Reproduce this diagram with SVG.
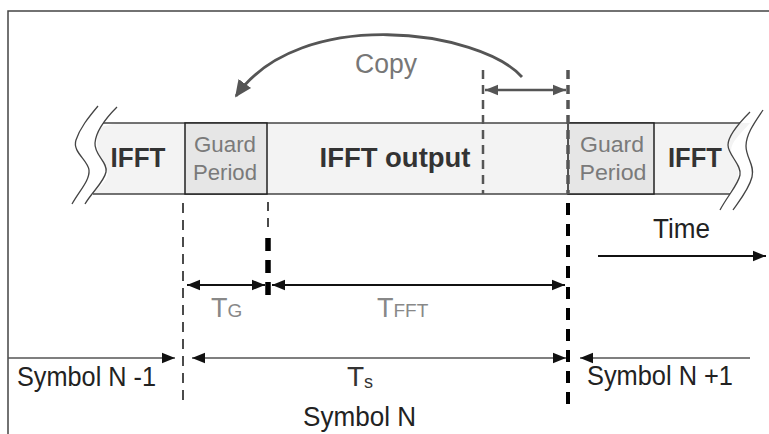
<svg xmlns="http://www.w3.org/2000/svg" width="769" height="434" viewBox="0 0 769 434">
<style>
  .t { font-family: "Liberation Sans", Arial, sans-serif; }
  .bold { font-weight: bold; fill: #333; font-size: 27px; }
  .gp { fill: #7a7a7a; font-size: 22px; }
  .sym { fill: #222; font-size: 27px; }
  .tl { fill: #888; font-size: 27px; }
  .frame { stroke: #444; stroke-width: 1.5; fill: none; }
  .wave { stroke: #444; stroke-width: 1.3; fill: none; }
</style>
<defs>
  <marker id="ah" viewBox="0 0 10 10" refX="10" refY="5" markerWidth="13" markerHeight="13" orient="auto-start-reverse" markerUnits="userSpaceOnUse">
    <path d="M0,1 L10,5 L0,9 z" fill="#111"/>
  </marker>
  <marker id="ahg" viewBox="0 0 10 10" refX="10" refY="5" markerWidth="13" markerHeight="13" orient="auto-start-reverse" markerUnits="userSpaceOnUse">
    <path d="M0,1 L10,5 L0,9 z" fill="#555"/>
  </marker>
  <marker id="ahc" viewBox="0 0 10 10" refX="9" refY="5" markerWidth="17" markerHeight="17" orient="auto" markerUnits="userSpaceOnUse">
    <path d="M0,0.5 L10,5 L0,9.5 z" fill="#555"/>
  </marker>
</defs>

<rect x="0" y="0" width="769" height="434" fill="#fff"/>
<path class="frame" d="M8,434 V11 H769"/>

<g id="bar">
  <path d="M117,123 H750 C740,135 726,145 733,157 C740,168 742,180 727,194 H93 C104,182 110,178 107,170 C100,158 93,145 100,127 Z" fill="#f3f3f3"/>
  <line x1="103" y1="123" x2="740" y2="123" stroke="#444" stroke-width="1.5"/>
  <line x1="93" y1="194" x2="730" y2="194" stroke="#444" stroke-width="1.5"/>
  <path class="wave" d="M98,106 C88,118 80,128 76,140 C72,152 88,160 89,170 C90,180 80,190 72,204"/>
  <path class="wave" d="M117,107 C106,118 96,130 95,143 C94,155 108,162 106,172 C104,182 92,192 85,204"/>
  <path class="wave" d="M750,112 C740,122 728,135 728,145 C728,155 742,165 740,175 C738,185 728,195 720,210"/>
  <path class="wave" d="M763,110 C755,122 746,134 746,146 C746,158 755,165 752,177 C749,189 740,200 733,210"/>
</g>

<g id="ifft-left">
  <text class="t bold" x="138" y="167" text-anchor="middle" textLength="55" lengthAdjust="spacingAndGlyphs">IFFT</text>
</g>
<g id="guard-left">
  <rect x="185" y="123" width="82" height="71" fill="#e6e6e6" stroke="#222" stroke-width="1.5"/>
  <text class="t gp" x="225" y="152" text-anchor="middle" textLength="62" lengthAdjust="spacingAndGlyphs">Guard</text>
  <text class="t gp" x="225" y="180" text-anchor="middle" textLength="64" lengthAdjust="spacingAndGlyphs">Period</text>
</g>
<g id="ifft-output">
  <text class="t bold" x="395" y="167" text-anchor="middle" textLength="151" lengthAdjust="spacingAndGlyphs">IFFT output</text>
</g>
<g id="guard-right">
  <rect x="568" y="123" width="86" height="71" fill="#e6e6e6" stroke="#222" stroke-width="1.5"/>
  <text class="t gp" x="612" y="152" text-anchor="middle" textLength="64" lengthAdjust="spacingAndGlyphs">Guard</text>
  <text class="t gp" x="613" y="180" text-anchor="middle" textLength="67" lengthAdjust="spacingAndGlyphs">Period</text>
</g>
<g id="ifft-right">
  <text class="t bold" x="695" y="167" text-anchor="middle" textLength="54" lengthAdjust="spacingAndGlyphs">IFFT</text>
</g>

<g id="copy">
  <text class="t" x="386" y="73" font-size="27" fill="#777" text-anchor="middle" textLength="62" lengthAdjust="spacingAndGlyphs">Copy</text>
</g>

<g id="connectors">
  <path d="M522,77 C480,30 300,5 236,96" fill="none" stroke="#555" stroke-width="2.8" marker-end="url(#ahc)"/>
  <line x1="485" y1="90" x2="566" y2="90" stroke="#555" stroke-width="2.5" marker-start="url(#ahg)" marker-end="url(#ahg)"/>
  <line x1="483" y1="70" x2="483" y2="194" stroke="#555" stroke-width="2.5" stroke-dasharray="9,6"/>
  <line x1="568" y1="70" x2="568" y2="194" stroke="#555" stroke-width="3.5" stroke-dasharray="9,6"/>
  <line x1="183" y1="203" x2="183" y2="404" stroke="#111" stroke-width="1.5" stroke-dasharray="10,7"/>
  <line x1="268" y1="202" x2="268" y2="232" stroke="#111" stroke-width="1.5" stroke-dasharray="9,7"/>
  <line x1="268" y1="238" x2="268" y2="299" stroke="#000" stroke-width="5.5" stroke-dasharray="13,9"/>
  <line x1="568" y1="203" x2="568" y2="404" stroke="#000" stroke-width="4" stroke-dasharray="12,9"/>
  <line x1="187" y1="285" x2="265" y2="285" stroke="#111" stroke-width="2" marker-start="url(#ah)" marker-end="url(#ah)"/>
  <line x1="272" y1="285" x2="565" y2="285" stroke="#111" stroke-width="2" marker-start="url(#ah)" marker-end="url(#ah)"/>
  <line x1="8" y1="358" x2="175" y2="358" stroke="#555" stroke-width="1.5" marker-end="url(#ah)"/>
  <line x1="192" y1="358" x2="566" y2="358" stroke="#555" stroke-width="1.5" marker-start="url(#ah)" marker-end="url(#ah)"/>
  <line x1="580" y1="358" x2="750" y2="358" stroke="#555" stroke-width="1.5" marker-start="url(#ah)"/>
  <line x1="598" y1="256" x2="766" y2="256" stroke="#111" stroke-width="2" marker-end="url(#ah)"/>
</g>

<g id="labels">
  <text class="t tl" x="211" y="317">T<tspan font-size="19">G</tspan></text>
  <text class="t tl" x="377" y="317">T<tspan font-size="19">FFT</tspan></text>
  <text class="t" x="347" y="386" font-size="28" fill="#333">T<tspan font-size="18" dy="2">s</tspan></text>
  <text class="t sym" x="17" y="386" textLength="139" lengthAdjust="spacingAndGlyphs">Symbol N -1</text>
  <text class="t sym" x="303" y="426" font-size="26" textLength="113" lengthAdjust="spacingAndGlyphs">Symbol N</text>
  <text class="t sym" x="587" y="385" textLength="146" lengthAdjust="spacingAndGlyphs">Symbol N +1</text>
  <text class="t sym" x="653" y="238" font-size="24" textLength="57" lengthAdjust="spacingAndGlyphs">Time</text>
</g>
</svg>
